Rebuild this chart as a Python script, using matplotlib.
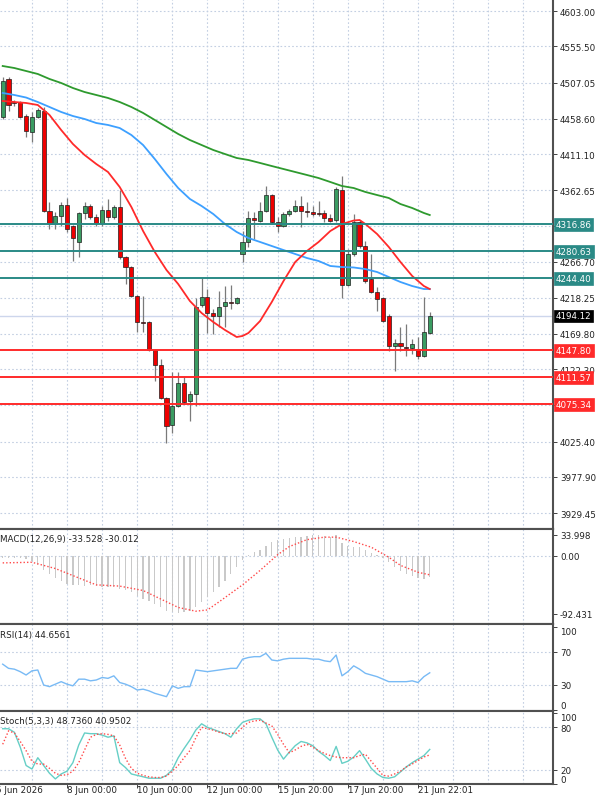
import matplotlib
matplotlib.use("Agg")
import matplotlib.pyplot as plt
import matplotlib.transforms as transforms
import numpy as np

# H4 candles
opens = [4460.8, 4511.8, 4480.9, 4480.9, 4462.1, 4440.6, 4460.8, 4468.8, 4334.6, 4317.2,
         4327.9, 4342.7, 4314.5, 4293.1, 4332.0, 4341.4, 4326.6, 4318.6, 4336.0, 4326.6,
         4340.0, 4272.9, 4259.5, 4220.6, 4185.7, 4185.7, 4148.2, 4128.0, 4083.8, 4047.5,
         4073.0, 4103.9, 4079.7, 4089.2, 4208.5, 4219.3, 4197.8, 4193.8, 4207.2, 4212.6,
         4211.2, 4277.0, 4293.1, 4325.3, 4321.2, 4334.6, 4356.1, 4319.9, 4314.5, 4330.6,
         4334.6, 4341.4, 4334.6, 4333.3, 4332.0, 4332.0, 4325.3, 4322.6, 4362.8, 4235.4,
         4277.0, 4319.9, 4287.7, 4243.4, 4226.0, 4217.9, 4193.8, 4153.5, 4157.5, 4152.2,
         4150.8, 4149.5, 4140.1, 4171.0]
highs = [4514.4, 4514.4, 4483.6, 4482.2, 4464.8, 4467.5, 4472.9, 4474.2, 4346.7, 4333.3,
         4346.7, 4352.1, 4315.9, 4333.3, 4346.7, 4344.0, 4330.6, 4341.4, 4350.8, 4342.7,
         4362.8, 4274.3, 4260.9, 4221.9, 4220.6, 4187.1, 4149.5, 4136.1, 4085.1, 4118.6,
         4118.6, 4111.9, 4093.2, 4217.9, 4244.8, 4230.0, 4203.2, 4227.3, 4234.0, 4235.4,
         4219.3, 4307.8, 4334.6, 4333.3, 4346.7, 4368.2, 4357.5, 4326.6, 4333.3, 4337.3,
         4349.4, 4354.8, 4346.7, 4341.4, 4348.1, 4336.0, 4330.6, 4366.9, 4381.6, 4283.7,
         4330.6, 4322.6, 4294.4, 4277.0, 4232.7, 4219.3, 4196.5, 4162.9, 4179.0, 4183.0,
         4162.9, 4165.6, 4219.3, 4199.2]
lows = [4458.1, 4468.8, 4475.5, 4459.4, 4433.9, 4427.2, 4459.4, 4333.3, 4310.5, 4310.5,
        4314.5, 4306.5, 4267.6, 4272.9, 4323.9, 4323.9, 4314.5, 4314.5, 4321.2, 4323.9,
        4270.3, 4236.7, 4219.3, 4172.3, 4172.3, 4146.8, 4106.6, 4082.4, 4023.4, 4036.8,
        4071.7, 4075.7, 4052.9, 4073.0, 4205.9, 4171.0, 4169.6, 4179.0, 4179.0, 4203.2,
        4209.9, 4266.2, 4286.4, 4297.1, 4319.9, 4333.3, 4317.2, 4306.5, 4313.2, 4327.9,
        4333.3, 4313.2, 4326.6, 4327.9, 4327.9, 4319.9, 4319.9, 4319.9, 4217.9, 4234.0,
        4274.3, 4285.0, 4238.0, 4224.6, 4200.5, 4185.7, 4146.8, 4120.0, 4146.8, 4140.1,
        4142.8, 4136.1, 4138.8, 4169.6]
closes = [4509.1, 4476.9, 4479.6, 4460.8, 4442.0, 4460.8, 4470.2, 4334.6, 4317.2, 4327.9,
          4342.7, 4310.5, 4298.4, 4332.0, 4341.4, 4326.6, 4318.6, 4336.0, 4326.6, 4340.0,
          4272.9, 4259.5, 4220.6, 4185.7, 4184.4, 4148.2, 4128.0, 4083.8, 4046.2, 4073.0,
          4103.9, 4078.4, 4089.2, 4205.9, 4219.3, 4197.8, 4193.8, 4205.9, 4212.6, 4211.9,
          4217.9, 4293.1, 4325.3, 4322.6, 4334.6, 4356.1, 4319.9, 4314.5, 4330.6, 4334.6,
          4341.4, 4334.6, 4334.0, 4330.6, 4331.3, 4325.3, 4321.2, 4364.2, 4235.4, 4277.0,
          4319.9, 4287.7, 4240.7, 4226.0, 4216.6, 4187.1, 4153.5, 4157.5, 4153.5, 4151.5,
          4156.2, 4140.1, 4172.3, 4194.12]

# moving averages, read at these candle indices
fast_idx = [0, 2, 4, 6, 8, 10, 12, 14, 16, 18, 20, 22, 24, 26, 28, 30, 32, 34, 36, 38,
            40, 41, 42, 44, 46, 48, 50, 52, 54, 56, 58, 60, 61, 62, 64, 66, 68, 70, 72, 73]
ma_fast = [4482.3, 4480.9, 4479.6, 4476.9, 4463.5, 4443.3, 4424.6, 4409.8, 4397.7, 4387.0,
           4366.9, 4340.0, 4307.8, 4279.7, 4255.5, 4236.7, 4213.9, 4197.8, 4185.7, 4175.0,
           4165.6, 4167.0, 4171.0, 4187.1, 4212.6, 4240.7, 4266.2, 4281.0, 4293.1, 4307.8,
           4317.2, 4321.9, 4322.6, 4317.2, 4303.8, 4286.4, 4266.2, 4247.5, 4234.0, 4230.0]
ma_idx = list(range(0, 73, 2)) + [73]
ma_mid = [4493.0, 4490.3, 4486.9, 4480.9, 4474.2, 4467.5, 4462.1, 4458.1, 4452.7, 4450.1,
          4446.0, 4436.6, 4423.2, 4404.4, 4384.3, 4365.5, 4350.8, 4341.4, 4330.6, 4317.2,
          4306.5, 4298.4, 4293.1, 4287.7, 4282.3, 4277.0, 4271.6, 4267.6, 4260.9, 4259.5,
          4258.9, 4256.8, 4252.8, 4246.1, 4239.4, 4234.0, 4230.0, 4230.0]
ma_slow = [4529.2, 4526.5, 4522.5, 4518.5, 4511.8, 4506.4, 4499.7, 4494.3, 4490.3, 4486.3,
           4480.9, 4474.2, 4466.2, 4456.8, 4447.4, 4438.0, 4429.9, 4423.2, 4416.5, 4411.1,
           4405.8, 4403.1, 4399.1, 4395.0, 4391.0, 4387.0, 4383.0, 4378.9, 4373.6, 4368.2,
           4365.5, 4360.2, 4356.1, 4352.1, 4344.0, 4338.7, 4332.0, 4329.3]

resistance = [4316.86, 4280.63, 4244.40]
support = [4147.80, 4111.57, 4075.34]
last_price = 4194.12

price_ticks = [4603.00, 4555.50, 4507.05, 4458.60, 4411.10, 4362.65, 4314.20, 4266.70,
               4218.25, 4169.80, 4122.30, 4073.85, 4025.40, 3977.90, 3929.45]
hidden_ticks = [4314.20, 4073.85]  # sit under the level boxes

macd_main = [-3, -3, -3, -4, -5, -8, -14, -22, -28, -35, -40, -44, -46, -47, -48, -47,
             -48, -49, -50, -50, -52, -55, -58, -63, -68, -72, -77, -82, -87, -90, -91, -90,
             -88, -82, -74, -66, -58, -50, -40, -28, -18, -6, 2, 6, 10, 16, 22, 25, 27, 29,
             30, 31, 32, 33, 33, 32, 31, 33, 20, 16, 15, 14, 10, 5, 1, -4, -10, -18, -24,
             -28, -32, -35, -36, -33.528]
sig_idx = [0, 5, 9, 13, 16, 20, 24, 28, 30, 33, 35, 37, 41, 44, 47, 49, 52, 55, 57, 60,
           63, 66, 68, 71, 73]
macd_signal = [-11, -10, -20, -35, -46, -48, -55, -73, -82, -88, -86, -73, -46, -23, 2, 15,
               26, 30, 30, 23, 14, -2, -15, -26, -30.012]

rsi = [55, 50, 49, 46, 42, 47, 48, 30, 28, 31, 34, 31, 29, 37, 37, 35, 36, 39, 38, 41,
       33, 31, 28, 24, 25, 23, 20, 18, 16, 29, 26, 28, 28, 48, 47, 46, 47, 48, 49, 50,
       50, 61, 63, 64, 64, 68, 60, 59, 61, 62, 62, 62, 62, 61, 61, 59, 58, 66, 41, 46,
       53, 49, 44, 42, 40, 37, 34, 34, 34, 34, 35, 33, 40, 44.6561]

stoch_k = [78, 78, 73, 52, 26, 21, 37, 26, 15, 7, 14, 18, 30, 55, 72, 71, 71, 69, 66, 68,
           30, 23, 14, 12, 10, 8, 8, 8, 12, 20, 37, 50, 62, 76, 85, 80, 77, 74, 71, 66,
           78, 87, 90, 92, 92, 85, 66, 48, 35, 45, 54, 60, 58, 54, 46, 40, 33, 53, 29, 32,
           38, 47, 35, 22, 14, 9, 8, 10, 17, 24, 30, 35, 40, 48.736]
stoch_d = [56, 75, 72, 60, 47, 32, 28, 28, 22, 15, 12, 13, 18, 30, 48, 66, 70, 71, 70, 68,
           55, 36, 22, 15, 12, 10, 9, 9, 11, 18, 26, 37, 47, 65, 80, 78, 76, 73, 71, 71,
           72, 80, 87, 89, 90, 86, 82, 70, 56, 44, 48, 53, 56, 52, 47, 43, 40, 38, 37, 37,
           37, 40, 42, 32, 22, 12, 11, 14, 18, 24, 28, 33, 38, 40.95]

date_idx = [11, 23, 35, 47, 59, 71]
date_labels = ['8 Jun 00:00', '10 Jun 00:00', '12 Jun 00:00', '15 Jun 20:00',
               '17 Jun 20:00', '21 Jun 22:01']

plt.rcParams['font.family'] = 'DejaVu Sans'
FS = 6.3
GRID = '#c3cfe2'
FRAME = '#505050'
TEAL = '#2a8a86'
RED = '#ff2a2a'
DOTS = (0, (1.5, 2))

W, H = 600, 803
fig = plt.figure(figsize=(W / 100, H / 100), dpi=100)


def pane(top, bottom):
    return fig.add_axes([0, 1 - bottom / H, 553 / W, (bottom - top) / H])


ax = pane(0, 529.5)
ax_macd = pane(529.5, 624.5)
ax_rsi = pane(624.5, 712)
ax_st = pane(712, 785)
axes = [ax, ax_macd, ax_rsi, ax_st]

x = np.arange(len(closes))
for a in axes:
    a.set_xlim(-0.46, 94.07)
    a.yaxis.tick_right()
    a.tick_params(axis='y', labelsize=FS, length=3, pad=2, colors='#222222',
                  width=0.6)
    a.set_xticks([])
    for s in a.spines.values():
        s.set_color(FRAME)
        s.set_linewidth(1.5)
    a.spines['left'].set_visible(False)
    for gx in range(5, 94, 6):
        a.axvline(gx, color=GRID, lw=0.8, ls=DOTS, zorder=0)

# ---- main price pane
ax.spines['top'].set_visible(False)
ax.set_ylim(3908.7, 4619.1)
ax.set_yticks(price_ticks)
ax.set_yticklabels(['' if p in hidden_ticks else '%.2f' % p for p in price_ticks])
for p in price_ticks:
    ax.axhline(p, color=GRID, lw=0.8, ls=DOTS, zorder=0)

o = np.array(opens)
c = np.array(closes)
up = c >= o
body_lo = np.minimum(o, c)
body_h = np.maximum(np.abs(c - o), 1.3)
ax.vlines(x, lows, highs, color='#7a7a7a', lw=0.9, zorder=2)
ax.bar(x[up], body_h[up], bottom=body_lo[up], width=0.7, color='#3b9c62',
       edgecolor='#1f1f1f', linewidth=0.5, zorder=3)
ax.bar(x[~up], body_h[~up], bottom=body_lo[~up], width=0.7, color='#ee0000',
       edgecolor='#1f1f1f', linewidth=0.5, zorder=3)

ax.plot(ma_idx, ma_slow, color='#2e9a2e', lw=1.3, zorder=4)
ax.plot(ma_idx, ma_mid, color='#3da0ff', lw=1.3, zorder=4)
ax.plot(fast_idx, ma_fast, color='#ff2a2a', lw=1.3, zorder=4)

ax.axhline(last_price, color='#cdd6ec', lw=1.0, zorder=1)
for lv in resistance:
    ax.axhline(lv, color=TEAL, lw=1.4, zorder=5)
for lv in support:
    ax.axhline(lv, color=RED, lw=1.4, zorder=5)

trans = transforms.blended_transform_factory(ax.transAxes, ax.transData)
boxes = [(v, TEAL) for v in resistance] + [(v, RED) for v in support] + \
        [(last_price, 'black')]
for lv, col in boxes:
    ax.text(1.005, lv, '%.2f' % lv, transform=trans, fontsize=FS, color='white',
            va='center', ha='left', clip_on=False, zorder=10,
            bbox=dict(boxstyle='square,pad=0.2', fc=col, ec=col, lw=0.5))

# ---- MACD pane
ax_macd.set_ylim(-107.6, 43.8)
ax_macd.bar(x, macd_main, width=0.22, color='#c9c9c9', zorder=2)
ax_macd.plot(sig_idx, macd_signal, color='#ff4a4a', lw=1.0, ls=(0, (1, 1.5)), zorder=3)
ax_macd.axhline(0, color=GRID, lw=0.8, ls=DOTS, zorder=0)
ax_macd.set_yticks([33.998, 0, -92.431])
ax_macd.set_yticklabels(['33.998', '0.00', '-92.431'])
ax_macd.text(0.0, 0.94, 'MACD(12,26,9) -33.528 -30.012', transform=ax_macd.transAxes,
             fontsize=FS, va='top', ha='left', color='#222222')

# ---- RSI pane
ax_rsi.set_ylim(-1.2, 103.8)
ax_rsi.plot(x, rsi, color='#78baf5', lw=1.0, zorder=3)
for lv in (70, 30):
    ax_rsi.axhline(lv, color=GRID, lw=0.8, ls=DOTS, zorder=0)
ax_rsi.set_yticks([100, 70, 30, 0])
ax_rsi.set_yticklabels(['100', '70', '30', '0'])
lbls = ax_rsi.get_yticklabels()
lbls[0].set_va('top')
lbls[3].set_va('bottom')
ax_rsi.text(0.0, 0.93, 'RSI(14) 44.6561', transform=ax_rsi.transAxes,
            fontsize=FS, va='top', ha='left', color='#222222')

# ---- Stochastic pane
ax_st.set_ylim(-0.2, 103.1)
ax_st.plot(x, stoch_k, color='#66cfc6', lw=1.0, zorder=3)
ax_st.plot(x, stoch_d, color='#ff4a4a', lw=1.0, ls=(0, (1, 1.5)), zorder=3)
for lv in (80, 20):
    ax_st.axhline(lv, color=GRID, lw=0.8, ls=DOTS, zorder=0)
ax_st.set_yticks([100, 80, 20, 0])
ax_st.set_yticklabels(['100', '80', '20', '0'])
lbls = ax_st.get_yticklabels()
lbls[0].set_va('top')
lbls[3].set_va('bottom')
ax_st.text(0.0, 0.93, 'Stoch(5,3,3) 48.7360 40.9502', transform=ax_st.transAxes,
           fontsize=FS, va='top', ha='left', color='#222222')

ax_st.set_xticks(date_idx)
ax_st.set_xticklabels(date_labels, ha='left')
ax_st.tick_params(axis='x', labelsize=FS, length=3, pad=-2.5, colors='#222222',
                  width=0.6)
# first date label is partly cut off by the left edge, as on the terminal
ax_st.text(-1.1, -0.015, '5 Jun 2026', transform=transforms.blended_transform_factory(
    ax_st.transData, ax_st.transAxes), fontsize=FS, va='top', ha='left',
    color='#222222', clip_on=False)

fig.savefig('out.png', dpi=100, facecolor='white')
